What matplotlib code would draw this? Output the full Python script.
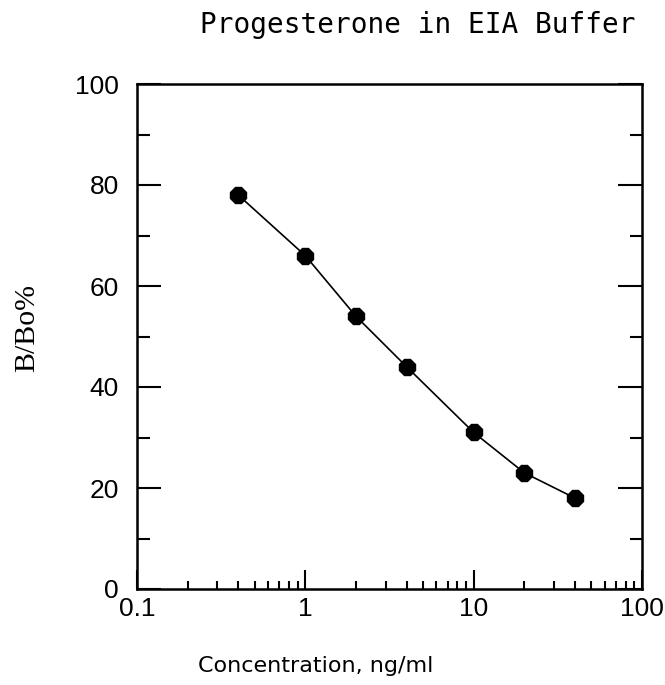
import matplotlib
matplotlib.use("Agg")
import matplotlib.pyplot as plt
from matplotlib.ticker import FixedLocator, LogLocator, NullFormatter

# Progesterone standard curve in EIA buffer
conc = [0.4, 1, 2, 4, 10, 20, 40]          # ng/ml
b_bo = [78, 66, 54, 44, 31, 23, 18]        # B/Bo%
x_ticks = [0.1, 1, 10, 100]
x_labels = ["0.1", "1", "10", "100"]
y_ticks = [0, 20, 40, 60, 80, 100]

W, H = 665, 685
fig = plt.figure(figsize=(W / 100, H / 100), dpi=100)
ax = fig.add_axes([137 / W, 1 - 589 / H, 505 / W, 505 / H])

ax.plot(conc, b_bo, color="black", lw=1.2, marker="8", markersize=13,
        markerfacecolor="black", markeredgecolor="black")

ax.set_xscale("log")
ax.set_xlim(0.1, 100)
ax.set_ylim(0, 100)

ax.xaxis.set_major_locator(FixedLocator(x_ticks))
ax.set_xticklabels(x_labels)
ax.xaxis.set_minor_locator(LogLocator(base=10, subs=range(2, 10)))
ax.xaxis.set_minor_formatter(NullFormatter())
ax.set_yticks(y_ticks)
ax.yaxis.set_minor_locator(FixedLocator(range(10, 100, 20)))

ax.tick_params(which="both", direction="in", top=False, right=True,
               width=1.5, labelsize=19, colors="black")
ax.tick_params(axis="y", which="major", length=17, pad=13)
ax.tick_params(axis="y", which="minor", length=9)
ax.tick_params(axis="x", which="major", length=14, pad=6)
ax.tick_params(axis="x", which="minor", length=6)
for lab in ax.get_xticklabels() + ax.get_yticklabels():
    lab.set_family("Liberation Sans")

for s in ax.spines.values():
    s.set_linewidth(1.8)

fig.text(418 / W, 1 - 33 / H, "Progesterone in EIA Buffer", fontsize=20,
         family="DejaVu Sans Mono", ha="center", va="baseline")
fig.text(316 / W, 1 - 672 / H, "Concentration, ng/ml", fontsize=16,
         family="DejaVu Sans", ha="center", va="baseline")
fig.text(27 / W, 1 - 328 / H, "B/Bo%", fontsize=21.5, family="Liberation Serif",
         rotation=90, ha="center", va="center")

fig.savefig("out.png", dpi=100)
